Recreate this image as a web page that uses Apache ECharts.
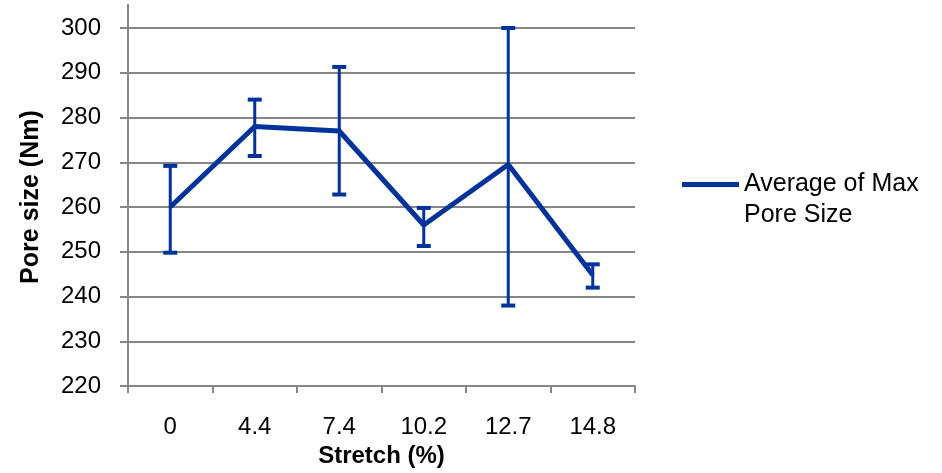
<!DOCTYPE html>
<html>
<head>
<meta charset="utf-8">
<script src="https://cdn.jsdelivr.net/npm/echarts@6/dist/echarts.min.js"></script>
<style>
  html, body { margin: 0; padding: 0; background: #fff; }
  #chart { width: 942px; height: 473px; }
</style>
</head>
<body>
<div id="chart"></div>
<script>
// Stretch levels (%) and measured pore sizes (Nm)
const categories = ['0', '4.4', '7.4', '10.2', '12.7', '14.8'];
const avgPore = [260, 278, 277, 256, 269.5, 244.8];
const errHigh = [269.2, 284, 291.3, 259.8, 300, 247.2];
const errLow = [249.8, 271.4, 262.8, 251.3, 238, 242];
const yTicks = { min: 220, max: 300, step: 10 };

const BLUE = '#003399';
const GRID = '#868686';
const FONT = 'Liberation Sans, Arial, sans-serif';

const errData = categories.map((c, i) => [i, errLow[i], errHigh[i]]);

const chart = echarts.init(document.getElementById('chart'));
chart.setOption({
  animation: false,
  backgroundColor: '#fff',
  title: {
    text: 'Average of Max Pore Size (Stretch)',
    left: 100,
    top: -24,
    textStyle: { fontFamily: FONT, fontSize: 19, fontWeight: 'bold', color: '#000' }
  },
  grid: { left: 128, top: 28, right: 307, bottom: 85 },
  // axis line continues a little above the top gridline
  graphic: [{
    type: 'line',
    shape: { x1: 128, y1: 4, x2: 128, y2: 28 },
    style: { stroke: GRID, lineWidth: 2 }
  }],
  legend: {
    left: 677,
    top: 133,
    itemWidth: 57,
    itemHeight: 5,
    itemGap: 0,
    data: [{ name: 'Average of Max Pore Size', icon: 'rect' }],
    formatter: () => '\nAverage of Max\nPore Size',
    textStyle: {
      fontFamily: FONT, fontSize: 25, color: '#000', lineHeight: 31
    }
  },
  xAxis: {
    type: 'category',
    data: categories,
    boundaryGap: true,
    name: 'Stretch (%)',
    nameLocation: 'middle',
    nameGap: 57,
    nameTextStyle: { fontFamily: FONT, fontSize: 24, fontWeight: 'bold', color: '#000' },
    axisLine: { lineStyle: { color: GRID, width: 2 } },
    axisTick: { show: true, length: 7, lineStyle: { color: GRID, width: 2 } },
    axisLabel: { fontFamily: FONT, fontSize: 24, color: '#000', margin: 29 }
  },
  yAxis: {
    type: 'value',
    min: yTicks.min,
    max: yTicks.max,
    interval: yTicks.step,
    name: 'Pore size (Nm)',
    nameLocation: 'middle',
    nameGap: 84,
    nameTextStyle: {
      fontFamily: FONT, fontSize: 25, fontWeight: 'bold', color: '#000',
      padding: [0, 0, 0, 20]
    },
    axisLine: { show: true, lineStyle: { color: GRID, width: 2 } },
    axisTick: { show: true, length: 8, lineStyle: { color: GRID, width: 2 } },
    axisLabel: { fontFamily: FONT, fontSize: 24, color: '#000', margin: 27 },
    splitLine: { show: true, lineStyle: { color: GRID, width: 2 } }
  },
  series: [
    {
      name: 'Average of Max Pore Size',
      type: 'line',
      data: avgPore,
      symbol: 'none',
      lineStyle: { color: BLUE, width: 5 },
      itemStyle: { color: BLUE },
      z: 3
    },
    {
      name: 'error',
      type: 'custom',
      data: errData,
      z: 4,
      renderItem: (params, api) => {
        const x = api.value(0);
        const lo = api.coord([x, api.value(1)]);
        const hi = api.coord([x, api.value(2)]);
        const cap = 7;
        const style = { stroke: BLUE, lineWidth: 3 };
        const capStyle = { stroke: BLUE, lineWidth: 4 };
        return {
          type: 'group',
          children: [
            { type: 'line', shape: { x1: lo[0], y1: lo[1], x2: hi[0], y2: hi[1] }, style },
            { type: 'line', shape: { x1: hi[0] - cap, y1: hi[1], x2: hi[0] + cap, y2: hi[1] }, style: capStyle },
            { type: 'line', shape: { x1: lo[0] - cap, y1: lo[1], x2: lo[0] + cap, y2: lo[1] }, style: capStyle }
          ]
        };
      }
    }
  ]
});
</script>
</body>
</html>
